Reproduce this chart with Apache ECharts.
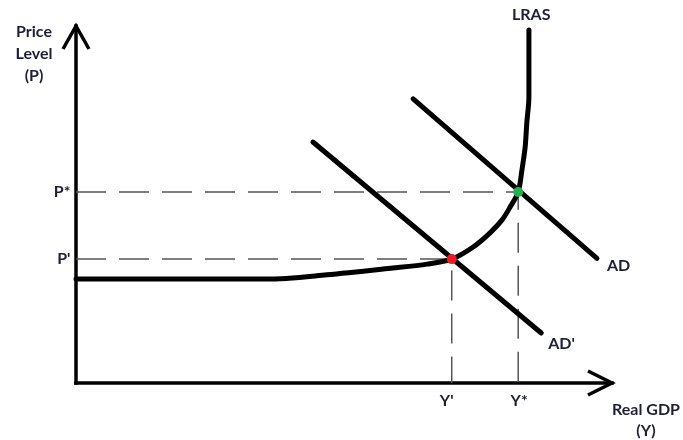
<!DOCTYPE html>
<html>
<head>
<meta charset="utf-8">
<script src="https://cdn.jsdelivr.net/npm/echarts@6/dist/echarts.min.js"></script>
<style>
  html, body { margin: 0; padding: 0; background: #fff; }
  #chart { width: 683px; height: 440px; }
</style>
</head>
<body>
<div id="chart"></div>
<script>
// Long-run aggregate supply: real GDP vs price level, both on a 0–100 scale
const lrasGdp   = [0, 35.6, 46.8, 59.1, 65.5, 70.1, 74.1, 77.2, 79.5, 81.0, 82.5, 83.2, 83.8, 84.1, 84.5, 84.5];
const lrasPrice = [29.1, 29.1, 30.3, 32.2, 33.3, 34.7, 38.1, 42.0, 45.7, 49.3, 53.5, 59.7, 66.1, 72.8, 80.1, 98.9];

// Aggregate demand (AD) and the shifted-in demand (AD'), end points
const adGdp        = [62.9, 97.2];
const adPrice      = [79.6, 34.9];
const adPrimeGdp   = [44.2, 86.8];
const adPrimePrice = [67.5, 14.0];

// Equilibria where each demand curve meets LRAS
const eqGdp       = [70.1, 82.5];
const eqPrice     = [34.7, 53.5];
const gdpLabels   = ["Y'", 'Y*'];
const priceLabels = ["P'", 'P*'];
const eqColors    = ['#ed1c24', '#22b14c'];

const TEXT_COLOR = '#1e1e3a';
const FONT = 'Lato';

const zip = (xs, ys) => xs.map((x, i) => [x, ys[i]]);

const chart = echarts.init(document.getElementById('chart'), null, { renderer: 'canvas' });

const textStyle = { color: TEXT_COLOR, fontFamily: FONT, fontWeight: 'bold', fontSize: 16, opacity: 1 };

const series = [];

// Dashed guides from each equilibrium to both axes
eqGdp.forEach((g, i) => {
  series.push({
    type: 'line',
    data: [[0, eqPrice[i]], [g, eqPrice[i]], [g, 0]],
    symbol: 'none',
    silent: true,
    z: 1,
    lineStyle: { color: '#555', width: 1.5, type: [30, 13] }
  });
  // axis tick-style labels
  series.push({
    type: 'scatter',
    symbol: 'circle',
    symbolSize: 1,
    itemStyle: { color: 'rgba(0,0,0,0)', opacity: 1 },
    silent: true,
    data: [
      { value: [0, eqPrice[i]], label: { show: true, position: 'left', distance: 5, formatter: priceLabels[i], ...textStyle } },
      { value: [g, 0], label: { show: true, position: 'bottom', distance: 9, offset: [i === 0 ? -5 : 1, 0], formatter: gdpLabels[i], ...textStyle } }
    ]
  });
});

// LRAS curve
series.push({
  type: 'line',
  data: zip(lrasGdp, lrasPrice),
  smooth: 0.3,
  smoothMonotone: 'none',
  symbol: 'none',
  z: 3,
  lineStyle: { color: '#000', width: 5, cap: 'round', join: 'round' },
  endLabel: { show: true, formatter: 'LRAS', distance: 0, offset: [-17, -15], ...textStyle }
});

// AD curve
series.push({
  type: 'line',
  data: zip(adGdp, adPrice),
  symbol: 'none',
  z: 3,
  lineStyle: { color: '#000', width: 5, cap: 'round' },
  endLabel: { show: true, formatter: 'AD', distance: 10, offset: [0, 7], ...textStyle }
});

// AD' curve
series.push({
  type: 'line',
  data: zip(adPrimeGdp, adPrimePrice),
  symbol: 'none',
  z: 3,
  lineStyle: { color: '#000', width: 5, cap: 'round' },
  endLabel: { show: true, formatter: "AD'", distance: 7, offset: [0, 11], ...textStyle }
});

// Equilibrium dots
series.push({
  type: 'scatter',
  z: 5,
  symbolSize: 10,
  itemStyle: { opacity: 1 },
  data: eqGdp.map((g, i) => ({ value: [g, eqPrice[i]], itemStyle: { color: eqColors[i] } }))
});

const axisCommon = {
  type: 'value',
  min: 0,
  max: 100,
  axisLine: { show: true, lineStyle: { color: '#000', width: 3.5, cap: 'square' } },
  axisTick: { show: false },
  axisLabel: { show: false },
  splitLine: { show: false }
};

chart.setOption({
  animation: false,
  backgroundColor: '#fff',
  grid: { left: 76, top: 26, right: 71, bottom: 57 },
  xAxis: { ...axisCommon },
  yAxis: { ...axisCommon },
  series
});

// Open arrowheads on both axes plus the axis titles
const yTip = chart.convertToPixel({ gridIndex: 0 }, [0, 100]);
const xTip = chart.convertToPixel({ gridIndex: 0 }, [100, 0]);
const arrowStyle = { stroke: '#000', lineWidth: 3.5, fill: null, lineJoin: 'miter' };
const titleStyle = { fill: TEXT_COLOR, font: 'bold 16px ' + FONT, align: 'center', verticalAlign: 'top' };

chart.setOption({
  graphic: [
    {
      type: 'polyline', silent: true, z: 10,
      shape: { points: [[yTip[0] - 13, yTip[1] + 23], yTip, [yTip[0] + 13, yTip[1] + 23]] },
      style: arrowStyle
    },
    {
      type: 'polyline', silent: true, z: 10,
      shape: { points: [[xTip[0] - 24, xTip[1] - 12], xTip, [xTip[0] - 24, xTip[1] + 12]] },
      style: arrowStyle
    },
    {
      type: 'text', x: 34, y: 21, silent: true,
      style: { ...titleStyle, text: 'Price\nLevel\n(P)', lineHeight: 22 }
    },
    {
      type: 'text', x: 646, y: 399, silent: true,
      style: { ...titleStyle, text: 'Real GDP\n(Y)', lineHeight: 21 }
    }
  ]
});
</script>
</body>
</html>
